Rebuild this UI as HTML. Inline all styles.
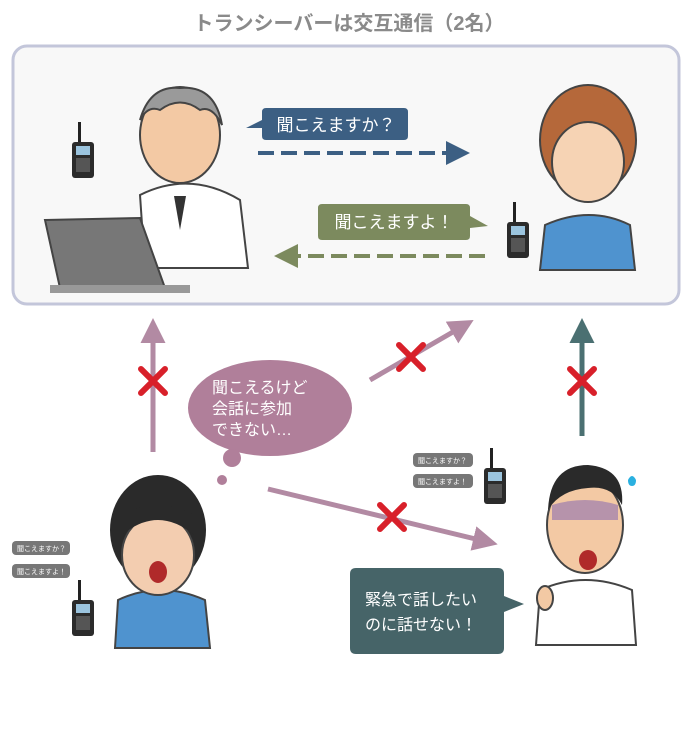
<!DOCTYPE html>
<html><head><meta charset="utf-8">
<style>
html,body{margin:0;padding:0;background:#fff;}
svg{display:block;}
text{font-family:"Liberation Sans","Noto Sans CJK JP",sans-serif;}
</style></head><body>
<svg width="698" height="738" viewBox="0 0 698 738" xmlns="http://www.w3.org/2000/svg">
<defs>
<marker id="ab" markerWidth="6" markerHeight="6" refX="4" refY="3" orient="auto" markerUnits="strokeWidth"><path d="M0,0 L6,3 L0,6 z" fill="#3c5f83"/></marker>
<marker id="ag" markerWidth="6" markerHeight="6" refX="4" refY="3" orient="auto" markerUnits="strokeWidth"><path d="M0,0 L6,3 L0,6 z" fill="#7c8a5e"/></marker>
<marker id="ap" markerWidth="5" markerHeight="5" refX="3" refY="2.5" orient="auto" markerUnits="strokeWidth"><path d="M0,0 L5,2.5 L0,5 z" fill="#b28aa3"/></marker>
<marker id="at" markerWidth="5" markerHeight="5" refX="3" refY="2.5" orient="auto" markerUnits="strokeWidth"><path d="M0,0 L5,2.5 L0,5 z" fill="#4b7072"/></marker>
<g id="radio">
<rect x="-2" y="-30" width="3" height="22" fill="#222"/>
<rect x="-8" y="-10" width="22" height="36" rx="3" fill="#2b2b2b"/>
<rect x="-4" y="-6" width="14" height="9" fill="#9bc4de"/>
<rect x="-4" y="6" width="14" height="14" fill="#555"/>
</g>
<g id="xm"><path d="M-12,-12 L12,12 M12,-12 L-12,12" stroke="#d8202a" stroke-width="6" stroke-linecap="round"/></g>
</defs>

<text x="349" y="30" text-anchor="middle" font-size="20" font-weight="bold" fill="#8a8a8a">トランシーバーは交互通信（2名）</text>

<rect x="13" y="46" width="666" height="258" rx="14" fill="#f8f8f8" stroke="#c3c6da" stroke-width="3"/>

<!-- doctor 1 + laptop -->
<path d="M140,195 Q190,170 240,200 L248,268 L145,268 Z" fill="#fff" stroke="#444" stroke-width="2"/>
<ellipse cx="180" cy="135" rx="40" ry="48" fill="#f3c9a4" stroke="#444" stroke-width="2"/>
<path d="M140,120 Q150,85 180,88 Q215,85 222,125 Q212,105 200,110 Q180,95 160,110 Q148,105 140,120Z" fill="#9a9a9a" stroke="#444" stroke-width="2"/>
<path d="M174,196 L180,230 L186,196Z" fill="#333"/>
<path d="M45,220 L140,218 L165,288 L60,288Z" fill="#777" stroke="#444" stroke-width="2"/>
<rect x="50" y="285" width="140" height="8" fill="#999"/>
<use href="#radio" x="80" y="152"/>

<!-- nurse 1 -->
<path d="M545,225 Q590,205 630,225 L635,270 L540,270Z" fill="#4f93cf" stroke="#444" stroke-width="2"/>
<ellipse cx="588" cy="140" rx="48" ry="55" fill="#b5683a" stroke="#444" stroke-width="2"/>
<ellipse cx="588" cy="162" rx="36" ry="40" fill="#f6d3b4" stroke="#444" stroke-width="2"/>
<path d="M548,140 Q588,100 628,140 Q620,105 588,100 Q555,105 548,140Z" fill="#b5683a"/>
<use href="#radio" x="515" y="232"/>

<!-- bubbles top -->
<path d="M262,112 Q262,108 266,108 L404,108 Q408,108 408,112 L408,136 Q408,140 404,140 L266,140 Q262,140 262,136 L262,128 L246,128 L262,120Z" fill="#3c5f83"/>
<text x="336" y="131" text-anchor="middle" font-size="17" fill="#fff">聞こえますか？</text>
<line x1="258" y1="153" x2="462" y2="153" stroke="#3c5f83" stroke-width="4" stroke-dasharray="16,7" marker-end="url(#ab)"/>

<path d="M322,204 L466,204 Q470,204 470,208 L470,216 L488,226 L470,228 L470,236 Q470,240 466,240 L322,240 Q318,240 318,236 L318,208 Q318,204 322,204Z" fill="#7c8a5e"/>
<text x="394" y="228" text-anchor="middle" font-size="17" fill="#fff">聞こえますよ！</text>
<line x1="485" y1="256" x2="282" y2="256" stroke="#7c8a5e" stroke-width="4" stroke-dasharray="16,7" marker-end="url(#ag)"/>

<!-- arrows -->
<line x1="153" y1="452" x2="153" y2="328" stroke="#b28aa3" stroke-width="5" marker-end="url(#ap)"/>
<use href="#xm" x="153" y="381"/>
<line x1="370" y1="380" x2="465" y2="325" stroke="#b28aa3" stroke-width="5" marker-end="url(#ap)"/>
<use href="#xm" x="411" y="357"/>
<line x1="582" y1="436" x2="582" y2="328" stroke="#4b7072" stroke-width="5" marker-end="url(#at)"/>
<use href="#xm" x="582" y="381"/>
<line x1="268" y1="489" x2="488" y2="542" stroke="#b28aa3" stroke-width="5" marker-end="url(#ap)"/>
<use href="#xm" x="392" y="517"/>

<!-- thought bubble -->
<ellipse cx="270" cy="408" rx="82" ry="48" fill="#b07f9a"/>
<circle cx="232" cy="458" r="9" fill="#b07f9a"/>
<circle cx="222" cy="480" r="5" fill="#b07f9a"/>
<text font-size="16" fill="#fff"><tspan x="212" y="393">聞こえるけど</tspan><tspan x="212" y="414">会話に参加</tspan><tspan x="212" y="435">できない…</tspan></text>

<!-- small bubbles -->
<g font-size="7" fill="#fff">
<rect x="413" y="453" width="60" height="14" rx="4" fill="#777"/><text x="418" y="463">聞こえますか？</text>
<rect x="413" y="474" width="60" height="14" rx="4" fill="#777"/><text x="418" y="484">聞こえますよ！</text>
<rect x="12" y="541" width="58" height="14" rx="4" fill="#777"/><text x="17" y="551">聞こえますか？</text>
<rect x="12" y="564" width="58" height="14" rx="4" fill="#777"/><text x="17" y="574">聞こえますよ！</text>
</g>
<use href="#radio" x="492" y="478"/>
<use href="#radio" x="80" y="610"/>

<!-- nurse 2 -->
<path d="M118,600 Q160,580 205,600 L210,648 L115,648Z" fill="#4f93cf" stroke="#444" stroke-width="2"/>
<ellipse cx="158" cy="530" rx="48" ry="55" fill="#2a2a2a"/>
<ellipse cx="158" cy="555" rx="36" ry="40" fill="#f3cdb0" stroke="#444" stroke-width="2"/>
<path d="M122,535 Q158,505 194,535 L194,515 Q158,495 122,515Z" fill="#2a2a2a"/>
<ellipse cx="158" cy="572" rx="9" ry="11" fill="#b02a2a"/>

<!-- doctor 2 -->
<path d="M540,590 Q585,570 632,590 L636,645 L536,645Z" fill="#fff" stroke="#444" stroke-width="2"/>
<ellipse cx="585" cy="525" rx="38" ry="48" fill="#f3c9a4" stroke="#444" stroke-width="2"/>
<path d="M548,510 Q550,465 588,465 Q625,468 622,505 Q612,485 588,488 Q560,490 548,510Z" fill="#2a2a2a"/>
<path d="M552,505 Q585,495 618,505 L618,520 L552,520Z" fill="#8e6fb0" opacity="0.6"/>
<ellipse cx="588" cy="560" rx="9" ry="10" fill="#b02a2a"/>
<ellipse cx="545" cy="598" rx="8" ry="12" fill="#f3c9a4" stroke="#444" stroke-width="2"/>
<path d="M628,480 Q632,472 636,480 Q636,486 632,486 Q628,486 628,480Z" fill="#2ab0e0"/>

<!-- teal bubble -->
<path d="M356,568 L498,568 Q504,568 504,574 L504,596 L524,604 L504,612 L504,648 Q504,654 498,654 L356,654 Q350,654 350,648 L350,574 Q350,568 356,568Z" fill="#466468"/>
<text font-size="16" fill="#fff"><tspan x="365" y="605">緊急で話したい</tspan><tspan x="365" y="630">のに話せない！</tspan></text>
</svg>
</body></html>
